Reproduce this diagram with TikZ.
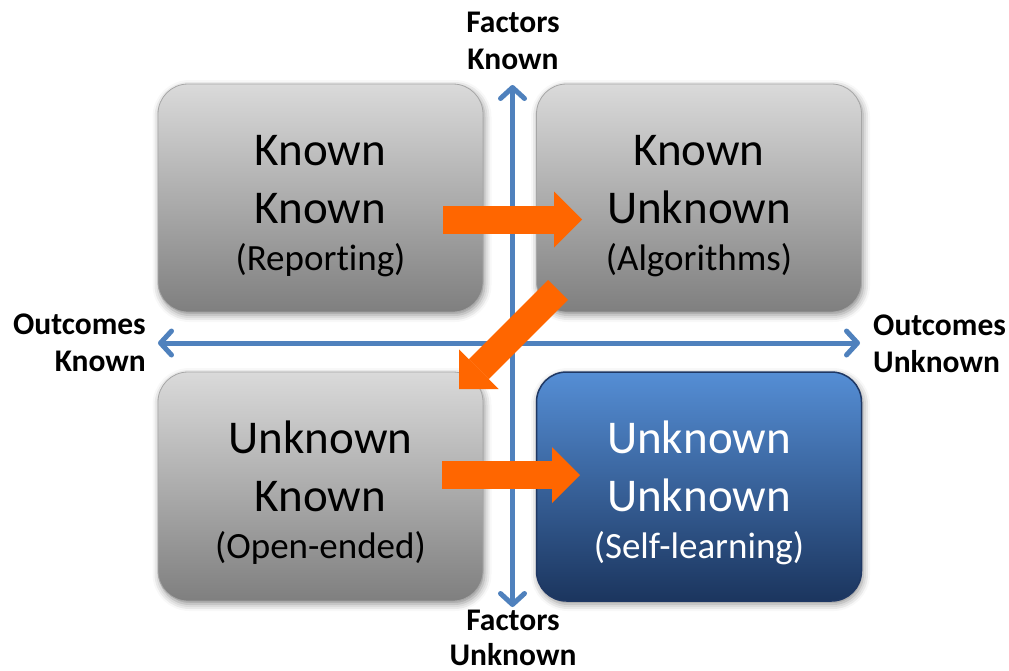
\documentclass[tikz,border=0pt]{standalone}
\usepackage{fontspec}
\setmainfont{Carlito}[Ligatures=NoCommon]
\usetikzlibrary{arrows.meta,shadows.blur,calc}

\definecolor{axisblue}{HTML}{4F81BD}
\definecolor{flow}{HTML}{FF6600}
\definecolor{grayTop}{HTML}{DADADA}
\definecolor{grayBot}{HTML}{7F7F7F}
\definecolor{grayEdge}{HTML}{A6A6A6}
\definecolor{blueTop}{HTML}{558ED5}
\definecolor{blueBot}{HTML}{1B355E}
\definecolor{blueEdge}{HTML}{1F3864}

\tikzset{
  quad/.style={rectangle, rounded corners=30pt, minimum width=325pt,
    minimum height=228pt, inner sep=0pt,
    blur shadow={shadow xshift=1.5pt, shadow yshift=-3pt,
      shadow blur radius=7pt, shadow opacity=45}},
  grayquad/.style={quad, draw=grayEdge, line width=0.8pt,
    top color=grayTop, bottom color=grayBot},
  bluequad/.style={quad, draw=blueEdge, line width=1.5pt,
    top color=blueTop, bottom color=blueBot},
  bigword/.style={anchor=base, inner sep=0pt, font=\fontsize{47}{56}\selectfont},
  smallword/.style={anchor=base, inner sep=0pt, font=\fontsize{37}{44}\selectfont},
  axislabel/.style={inner sep=0pt, font=\fontsize{31.5}{37}\selectfont\bfseries},
  axis/.style={draw=axisblue, line width=5pt, line cap=round,
    {Straight Barb[length=11pt,width=24pt,round]}-{Straight Barb[length=11pt,width=24pt,round]}},
  flowarrow/.style={draw=flow, line width=28pt,
    -{Triangle[width=56pt,length=28pt,line width=0pt]}},
}

\begin{document}
\begin{tikzpicture}[x=1pt, y=-1pt]
  \useasboundingbox (0,0) rectangle (1009,670);

  % the four quadrants
  \node[grayquad] (kk) at (320.5,198) {};
  \node[grayquad] (ku) at (699,198) {};
  \node[grayquad, minimum height=229pt] (uk) at (320.5,486.5) {};
  \node[bluequad, minimum height=229pt] (uu) at (699,486.5) {};

  % quadrant texts
  \node[bigword]   (kk1) at ($(kk.center)+(0,-33)$) {Known};
  \node[bigword]   (kk2) at ($(kk.center)+(0,25)$)  {Known};
  \node[smallword] (kk3) at ($(kk.center)+(0,72)$)  {(Reporting)};

  \node[bigword]   (ku1) at ($(ku.center)+(0,-33)$) {Known};
  \node[bigword]   (ku2) at ($(ku.center)+(0,25)$)  {Unknown};
  \node[smallword] (ku3) at ($(ku.center)+(0,72)$)  {(Algorithms)};

  \node[bigword]   (uk1) at ($(uk.center)+(0,-33)$) {Unknown};
  \node[bigword]   (uk2) at ($(uk.center)+(0,25)$)  {Known};
  \node[smallword] (uk3) at ($(uk.center)+(0,72)$)  {(Open-ended)};

  \node[bigword, text=white]   (uu1) at ($(uu.center)+(0,-33)$) {Unknown};
  \node[bigword, text=white]   (uu2) at ($(uu.center)+(0,25)$)  {Unknown};
  \node[smallword, text=white] (uu3) at ($(uu.center)+(0,72)$)  {(Self-learning)};

  % axes
  \coordinate (vtop) at (512.5,85);
  \coordinate (vbot) at (512.5,607);
  \coordinate (hleft) at (158,343);
  \coordinate (hright) at (860,343);
  \draw[axis] (vbot) -- (vtop);
  \draw[axis] (hleft) -- (hright);

  % axis labels
  \node[axislabel, anchor=base] (fk1) at (513,32) {Factors};
  \node[axislabel, anchor=base] (fk2) at (513,69) {Known};
  \node[axislabel, anchor=base] (fu1) at (513,630) {Factors};
  \node[axislabel, anchor=base] (fu2) at (513,665) {Unknown};
  \node[axislabel, anchor=base east] (ok1) at (146,334) {Outcomes};
  \node[axislabel, anchor=base east] (ok2) at (146,371) {Known};
  \node[axislabel, anchor=base west] (ou1) at (873,335) {Outcomes};
  \node[axislabel, anchor=base west] (ou2) at (873,372) {Unknown};

  % progression arrows
  \coordinate (a1s) at (443,219.5);
  \coordinate (a1e) at (582,219.5);
  \coordinate (a2s) at (558,290);
  \coordinate (a2e) at (459,389);
  \coordinate (a3s) at (442,475);
  \coordinate (a3e) at (580,475);
  \draw[flowarrow] (a1s) -- (a1e);
  \draw[flowarrow] (a2s) -- (a2e);
  \draw[flowarrow] (a3s) -- (a3e);
\end{tikzpicture}
\end{document}
